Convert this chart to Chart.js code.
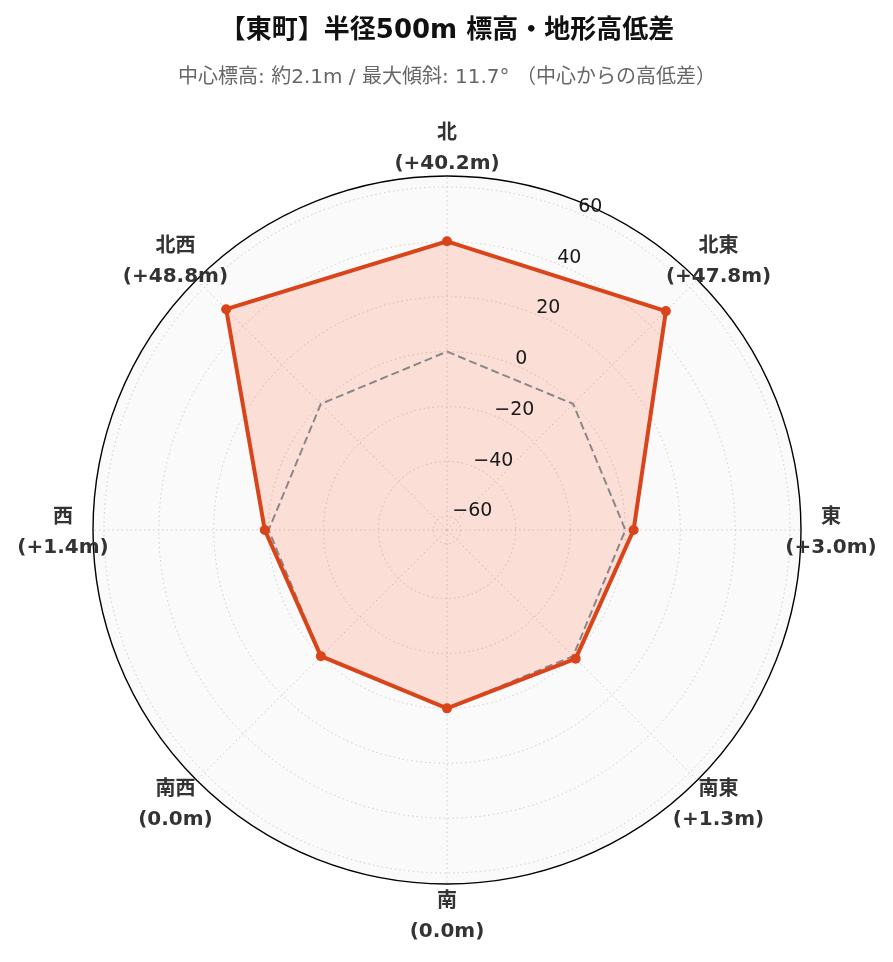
<!DOCTYPE html>
<html lang="ja">
<head>
<meta charset="utf-8">
<title>東町 標高・地形高低差</title>
<script src="https://cdn.jsdelivr.net/npm/chart.js@4.4.1/dist/chart.umd.min.js"></script>
<style>
  html, body { margin: 0; padding: 0; background: #fff; }
  #wrap { width: 893px; height: 962px; position: relative; }
</style>
</head>
<body>
<div id="wrap"><canvas id="elevChart"></canvas></div>
<script>
// Data
const directions = ['北', '北東', '東', '南東', '南', '南西', '西', '北西'];
const elevDiff = [40.2, 47.8, 3.0, 1.3, 0.0, 0.0, 1.4, 48.8];
const zeroLine = [0, 0, 0, 0, 0, 0, 0, 0];
const rTicks = [-60, -40, -20, 0, 20, 40, 60];
const rMin = -65;
const rMax = 64;

const FONT = '"DejaVu Sans", "Noto Sans CJK JP", sans-serif';
const lineColor = '#d9441a';

function fmtTick(v) {
    return v < 0 ? '\u2212' + Math.abs(v) : String(v);
}
function fmtDiff(v) {
    return v > 0 ? '(+' + v.toFixed(1) + 'm)' : '(' + v.toFixed(1) + 'm)';
}

// tick labels at 22.5deg and two-line direction labels
const radarText = {
    id: 'radarText',
    afterDraw(chart) {
        const s = chart.scales.r;
        const c = chart.ctx;
        c.save();
        c.font = '19px ' + FONT;
        c.fillStyle = '#1a1a1a';
        c.textAlign = 'left';
        c.textBaseline = 'alphabetic';
        rTicks.forEach(v => {
            const p = s.getPointPositionForValue(0.5, v);
            c.fillText(fmtTick(v), p.x, p.y - 1);
        });

        const rLab = s.drawingArea + 30;
        c.font = 'bold 20px ' + FONT;
        c.fillStyle = '#333';
        c.textAlign = 'center';
        c.textBaseline = 'middle';
        directions.forEach((d, i) => {
            const p = s.getPointPosition(i, rLab);
            c.fillText(d, p.x, p.y - 12);
            c.fillText(fmtDiff(elevDiff[i]), p.x, p.y + 18);
        });
        c.restore();
    }
};

const isOuter = c => c.tick && c.tick.value === rMax;

new Chart(document.getElementById('elevChart'), {
    type: 'radar',
    data: {
        labels: directions,
        datasets: [{
            label: '高低差',
            data: elevDiff,
            borderColor: lineColor,
            borderWidth: 4,
            backgroundColor: 'rgba(255, 87, 34, 0.17)',
            fill: 'start',
            pointRadius: 5,
            pointBackgroundColor: lineColor,
            pointBorderWidth: 0
        }, {
            label: '中心',
            data: zeroLine,
            borderColor: '#888',
            borderWidth: 2,
            borderDash: [8, 4],
            fill: false,
            pointRadius: 0
        }]
    },
    options: {
        responsive: true,
        maintainAspectRatio: false,
        animation: false,
        layout: { padding: { left: 93, right: 92, top: 0, bottom: 78 } },
        elements: { line: { tension: 0 } },
        plugins: {
            legend: { display: false },
            tooltip: { enabled: false },
            filler: { drawTime: 'beforeDatasetsDraw' },
            title: {
                display: true,
                text: '【東町】半径500m 標高・地形高低差',
                color: '#111',
                font: { family: FONT, size: 26, weight: 'bold', lineHeight: 1.2 },
                padding: { top: 15.4, bottom: 10 }
            },
            subtitle: {
                display: true,
                text: '中心標高: 約2.1m / 最大傾斜: 11.7° （中心からの高低差）',
                color: '#666',
                font: { family: FONT, size: 20, lineHeight: 1.2 },
                padding: { top: 9.4, bottom: 86 }
            }
        },
        scales: {
            r: {
                min: rMin,
                max: rMax,
                startAngle: 0,
                backgroundColor: '#fafafa',
                afterBuildTicks: s => {
                    s.ticks = rTicks.concat([rMax]).map(v => ({ value: v }));
                },
                ticks: { display: false },
                pointLabels: { display: false },
                grid: {
                    circular: true,
                    color: c => isOuter(c) ? '#000' : '#cfcfcf',
                    lineWidth: c => isOuter(c) ? 1.4 : 1,
                    borderDash: c => isOuter(c) ? [] : [1.5, 3]
                },
                border: {
                    dash: c => isOuter(c) ? [] : [1.5, 3]
                },
                angleLines: {
                    color: '#cfcfcf',
                    lineWidth: 1,
                    borderDash: [1.5, 3]
                }
            }
        }
    },
    plugins: [radarText]
});
</script>
</body>
</html>
